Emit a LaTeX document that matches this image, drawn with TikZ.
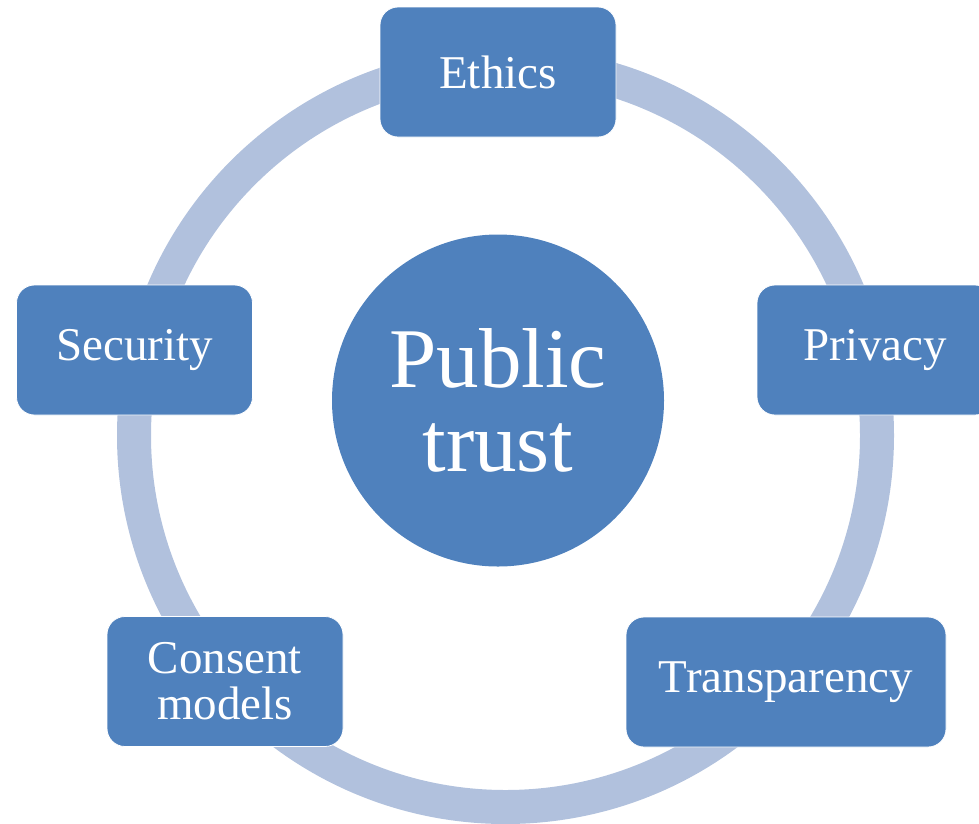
\documentclass[tikz,border=0pt]{standalone}
\usepackage{fontspec}
\setmainfont{Liberation Serif}
\definecolor{boxblue}{HTML}{4F81BD}
\definecolor{ringblue}{HTML}{B1C1DD}
\begin{document}
\begin{tikzpicture}[x=1pt,y=-1pt,
  itembox/.style={draw=white, line width=0.8pt, fill=boxblue, rounded corners=18pt,
    minimum width=236pt, minimum height=130pt, inner sep=0pt, text=white,
    font=\fontsize{47}{46}\selectfont, align=center},
  hub/.style={circle, fill=boxblue, minimum size=332pt, inner sep=0pt, text=white,
    font=\fontsize{85}{84}\selectfont, align=center}]
\useasboundingbox (0,0) rectangle (979,823);
\clip (0,0) rectangle (979,823);
\coordinate (ringc) at (505.5,435.5);
\draw[ringblue, line width=34pt] (ringc) circle[radius=371.5pt];
\node[hub] (trust) at (498,400.5) {Public\\trust};
\node[itembox] (ethics) at (498,72) {Ethics};
\node[itembox] (security) at (134.5,350) {Security};
\node[itembox] (privacy) at (875,350) {Privacy};
\node[itembox] (consent) at (225,681.5) {Consent\\models};
\node[itembox, minimum width=320pt] (transp) at (786,682) {Transparency};
\end{tikzpicture}
\end{document}
